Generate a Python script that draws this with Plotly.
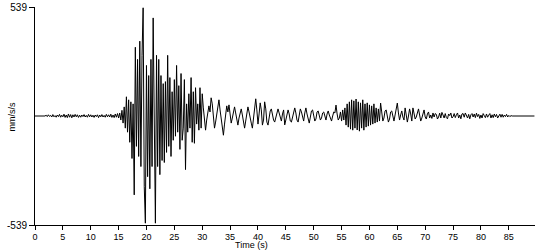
import plotly.graph_objects as go

# sampling interval of the trace (seconds)
DT = 0.2

# acceleration values (mm/s/s), one per DT
accel = [
    # 0.0 - 1.8
    0, 0, 0, 0, 0, 0, 0, 0, 0, 0,
    # 2 - 14.8
    4, -3, 6, -2, 3,
    -5, 7, -4, 2, -6,
    5, -3, 8, -6, 4,
    -4, 9, -7, 5, -8,
    10, -6, 7, -9, 6,
    -5, 8, -4, 6, -7,
    4, -6, 5, -3, 7,
    -5, 3, -6, 8, -4,
    6, -5, 4, -7, 5,
    -3, 6, -8, 5, -4,
    7, -5, 3, -6, 8,
    -4, 6, -5, 9, -7,
    5, -8, 10, -6, 12,
    # 15 - 19.8
    -10, 15, -20, 28, -35,
    45, -60, 95, -80, 80,
    -130, 70, -210, 60, -390,
    340, -150, 280, -200, 370,
    -250, 300, 535, -350, -530,
    # 20 - 24.8
    250, -300, 200, -360, 280,
    -250, 485, -200, -530, 300,
    -250, 280, -290, 200, -220,
    160, -230, 170, -180, 300,
    -150, 190, -200, 120, -120,
    # 25 - 29.8
    180, -100, 250, -80, 150,
    -165, 210, -120, -60, 180,
    -265, 60, -80, 110, -60,
    190, -130, 120, -135, 140,
    -40, 60, -70, 140, -60,
    # 30 - 34.8
    110, 40, -30, -70, -20,
    10, 50, 20, 90, 60,
    -20, -60, -30, 10, 40,
    80, 30, -10, -50, -95,
    -40, 10, 50, 20, 55,
    # 35 - 39.8
    10, -35, -10, 30, 45,
    15, -25, -45, -10, 20,
    35, 5, -20, -60, -25,
    10, 45, 20, -15, -35,
    -60, -20, 40, 85, 30,
    # 40 - 44.8
    -40, 10, 65, 30, -45,
    -20, 70, 35, -30, -45,
    -10, 25, 35, 5, -20,
    -30, -5, 20, 35, 15,
    -15, -25, 10, 30, -44,
    # 45 - 49.8
    -20, 15, 30, 10, -25,
    -30, -5, 25, 40, 15,
    -20, -30, 0, 35, 20,
    -10, -25, 15, 40, 10,
    -20, -35, -5, 25, 30,
    # 50 - 54.8
    5, -25, -15, 20, 25,
    0, -20, -10, 15, 20,
    -5, -20, 10, 25, 5,
    -15, -25, 0, 20, 15,
    54, 10, -20, -10, 20,
    # 55 - 59.8
    -25, 30, -20, 40, -45,
    60, -55, 70, -65, 80,
    -70, 75, -60, 84, -69,
    70, -75, 65, -60, 80,
    -70, 60, -55, 65, -50,
    # 60 - 64.8
    55, -45, 50, -40, 60,
    -35, 40, -30, 35, -25,
    64, 20, -25, -10, 25,
    30, -5, -30, -15, 20,
    25, -10, -25, 5, 30,
    # 65 - 69.8
    64, 15, -20, 5, 25,
    -5, -20, 40, 10, -30,
    0, 35, 10, -25, 40,
    15, -15, -5, 25, 35,
    5, -25, -10, 20, 30,
    # 70 - 74.8
    -5, -15, 10, 20, -10,
    5, -12, 15, -5, 12,
    8, -15, -5, 14, -10,
    18, 5, -10, 12, -8,
    -14, 10, 2, 15, -10,
    # 75 - 79.8
    -4, 12, -8, 6, 15,
    -10, 5, -14, 10, 12,
    -6, 15, 3, -10, 8,
    -14, 6, 12, -5, 10,
    -8, 14, -3, 8, -12,
    # 80 - 84.8
    5, -10, 12, 2, -8,
    10, -6, 4, 12, -10,
    6, -8, 10, -4, 8,
    -10, 4, 9, -6, 8,
    -6, 5, -3, 8, -5,
    # 85 - 89.6
    3, -3, 2,
    0, 0, 0, 0, 0, 0, 0, 0, 0, 0,
    0, 0, 0, 0, 0, 0, 0, 0, 0, 0, 0,
]

time_s = [i * DT for i in range(len(accel))]

x_ticks = [0, 5, 10, 15, 20, 25, 30, 35, 40, 45, 50, 55, 60, 65, 70, 75, 80, 85]
y_ticks = [-539, 539]
y_tick_labels = ["-539", "539"]

FONT = "Liberation Sans, Arial, sans-serif"

fig = go.Figure(
    go.Scatter(
        x=time_s, y=accel, mode="lines",
        line=dict(color="black", width=1),
        hoverinfo="skip", showlegend=False,
    )
)

fig.update_layout(
    width=550, height=250,
    margin=dict(l=35, r=15, t=7, b=25),
    paper_bgcolor="white", plot_bgcolor="white",
    font=dict(family=FONT, size=10, color="black"),
    xaxis=dict(
        range=[0, 89.7], tickvals=x_ticks, automargin=False,
        showline=True, linecolor="black", linewidth=1,
        ticks="outside", ticklen=4, tickcolor="black", tickwidth=1,
        ticklabelstandoff=-1,
        showgrid=False, zeroline=False,
        tickfont=dict(family=FONT, size=9, color="black"),
    ),
    yaxis=dict(
        range=[-539, 539], tickvals=y_ticks, ticktext=y_tick_labels,
        automargin=False,
        showline=True, linecolor="black", linewidth=1,
        ticks="outside", ticklen=5, tickcolor="black", tickwidth=1,
        showgrid=False, zeroline=False,
        tickfont=dict(family=FONT, size=10, color="black"),
    ),
    annotations=[
        dict(text="Time (s)", xref="paper", yref="paper",
             x=0.433, y=-0.094, xanchor="center", yanchor="middle",
             showarrow=False, font=dict(family=FONT, size=9, color="black")),
        dict(text="mm/s/s", xref="paper", yref="paper",
             x=-0.045, y=0.495, xanchor="center", yanchor="middle",
             textangle=-90, showarrow=False,
             font=dict(family=FONT, size=9, color="black")),
    ],
)

fig.write_html("out.html")
